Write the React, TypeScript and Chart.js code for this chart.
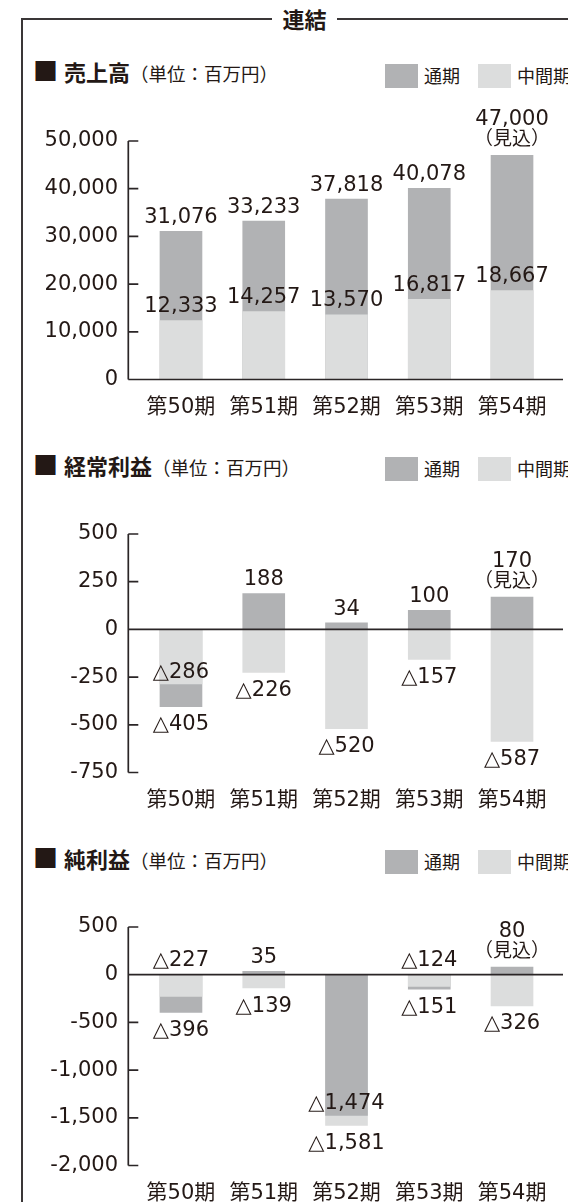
import React, { useEffect, useRef } from "react";
import { Chart, registerables } from "chart.js";

Chart.register(...registerables);

// ---- data ----
const periods = ["第50期", "第51期", "第52期", "第53期", "第54期"];
const seriesNames = ["通期", "中間期"];

const salesFull = [31076, 33233, 37818, 40078, 47000];
const salesHalf = [12333, 14257, 13570, 16817, 18667];
const salesTicks = [0, 10000, 20000, 30000, 40000, 50000];

const ordinaryFull = [-405, 188, 34, 100, 170];
const ordinaryHalf = [-286, -226, -520, -157, -587];
const ordinaryTicks = [-750, -500, -250, 0, 250, 500];

const netFull = [-396, 35, -1474, -151, 80];
const netHalf = [-227, -139, -1581, -124, -326];
const netTicks = [-2000, -1500, -1000, -500, 0, 500];

const forecastIndex = 4;
const forecastNote = "（見込）";
const unitNote = "（単位：百万円）";
const frameTitle = "連結";

// ---- styles ----
const DARK = "#b1b2b4";
const LIGHT = "#dcdddd";
const TEXT = "#231815";
const AXIS = "#2a2526";
const NUM_FONT = "'DejaVu Sans', 'Noto Sans CJK JP', sans-serif";
const JP_FONT = "'Noto Sans CJK JP', 'DejaVu Sans', sans-serif";
const NUM_SIZE = 21;

// label placement: o = outside bar end, i = inside bar end, z = above zero line
const sections = [
  {
    T: 72.5, canvasTop: 103, title: "売上高",
    full: salesFull, half: salesHalf, ticks: salesTicks,
    fullPlace: ["o", "o", "o", "o", "o"], halfPlace: ["o", "o", "o", "o", "o"],
  },
  {
    T: 466, canvasTop: 496, title: "経常利益",
    full: ordinaryFull, half: ordinaryHalf, ticks: ordinaryTicks,
    fullPlace: ["o", "o", "o", "o", "o"], halfPlace: ["i", "o", "o", "o", "o"],
  },
  {
    T: 859, canvasTop: 889, title: "純利益",
    full: netFull, half: netHalf, ticks: netTicks,
    fullPlace: ["o", "o", "i", "o", "o"], halfPlace: ["z", "o", "o", "z", "o"],
  },
];

const fmtValue = (v: number) =>
  v < 0 ? "△" + Math.abs(v).toLocaleString("en-US") : v.toLocaleString("en-US");
const fmtTick = (v: number) =>
  (v < 0 ? "-" : "") + Math.abs(v).toLocaleString("en-US");

function makePlugin(fullPlace: string[], halfPlace: string[], ticks: number[]) {
  return {
    id: "overlapAndLabels",
    beforeDatasetDraw() {
      return false;
    },
    afterDatasetsDraw(chart: any) {
      const ctx = chart.ctx;
      const y = chart.scales.y;
      const area = chart.chartArea;
      const metas = [chart.getDatasetMeta(0), chart.getDatasetMeta(1)];
      const n = chart.data.labels.length;
      // bars: larger magnitude behind, smaller in front
      for (let i = 0; i < n; i++) {
        const items = metas.map((m: any) => ({
          el: m.data[i],
          v: chart.data.datasets[m.index].data[i],
        }));
        items.sort((a: any, b: any) => Math.abs(b.v) - Math.abs(a.v));
        items.forEach((it: any) => it.el.draw(ctx));
      }
      // axes
      const axisX = area.left - 11.3;
      ctx.save();
      ctx.strokeStyle = AXIS;
      ctx.lineWidth = 1.7;
      ctx.beginPath();
      const yTop = y.getPixelForValue(ticks[ticks.length - 1]);
      const yBot = y.getPixelForValue(ticks[0]);
      ctx.moveTo(axisX, yTop);
      ctx.lineTo(axisX, yBot);
      ticks.forEach((v) => {
        if (v === 0) return;
        const py = y.getPixelForValue(v);
        ctx.moveTo(axisX, py);
        ctx.lineTo(axisX + 10, py);
      });
      const zy = y.getPixelForValue(0);
      ctx.moveTo(axisX, zy);
      ctx.lineTo(area.right + 9.6, zy);
      ctx.stroke();
      ctx.restore();

      // value labels
      ctx.save();
      ctx.fillStyle = TEXT;
      ctx.textAlign = "center";
      ctx.textBaseline = "alphabetic";
      const places = [fullPlace, halfPlace];
      const capHalf = NUM_SIZE * 0.365;
      metas.forEach((m: any, di: number) => {
        const data = chart.data.datasets[m.index].data;
        for (let i = 0; i < n; i++) {
          const v = data[i];
          const el = m.data[i];
          const end = y.getPixelForValue(v);
          const mode = places[di][i];
          const dir = v >= 0 ? -1 : 1;
          let cy: number;
          if (mode === "z") cy = zy - 16;
          else if (mode === "i") cy = end - dir * 14;
          else cy = end + dir * 16;
          ctx.font = NUM_SIZE + "px " + NUM_FONT;
          if (di === 0 && i === forecastIndex) {
            const noteY = end - 17;
            ctx.font = "19px " + JP_FONT;
            ctx.fillText(forecastNote, el.x, noteY + 7);
            ctx.font = NUM_SIZE + "px " + NUM_FONT;
            ctx.fillText(fmtValue(v), el.x, noteY - 21 + capHalf);
          } else {
            ctx.fillText(fmtValue(v), el.x, cy + capHalf);
          }
        }
      });
      ctx.restore();
    },
  };
}

function BarPanel(props: any) {
  const { canvasTop, full, half, ticks, fullPlace, halfPlace } = props;
  const ref = useRef<HTMLCanvasElement>(null);
  useEffect(() => {
    const chart = new Chart(ref.current as HTMLCanvasElement, {
      type: "bar",
      data: {
        labels: periods,
        datasets: [
          { label: seriesNames[0], data: full, backgroundColor: DARK, barThickness: 42, borderWidth: 0 },
          { label: seriesNames[1], data: half, backgroundColor: LIGHT, barThickness: 42, borderWidth: 0 },
        ],
      },
      options: {
        animation: false,
        responsive: false,
        maintainAspectRatio: false,
        layout: { padding: { top: 38, right: 14.6, left: 0, bottom: 0 } },
        plugins: { legend: { display: false }, tooltip: { enabled: false } },
        scales: {
          x: {
            stacked: true,
            offset: true,
            grid: { display: false },
            border: { display: false },
            afterFit: (s: any) => {
              s.height = 45.5;
            },
            ticks: {
              padding: 7,
              color: TEXT,
              font: { family: NUM_FONT, size: NUM_SIZE },
              maxRotation: 0,
              autoSkip: false,
            },
          },
          y: {
            stacked: false,
            min: ticks[0],
            max: ticks[ticks.length - 1],
            grid: { display: false },
            border: { display: false },
            afterBuildTicks: (s: any) => {
              s.ticks = ticks.map((v: number) => ({ value: v }));
            },
            afterFit: (s: any) => {
              s.width = 139.6;
            },
            ticks: {
              callback: (v: any) => fmtTick(Number(v)),
              padding: 13.6,
              color: TEXT,
              font: { family: NUM_FONT, size: NUM_SIZE },
            },
          },
        },
      } as any,
      plugins: [makePlugin(fullPlace, halfPlace, ticks)],
    });
    return () => chart.destroy();
  }, []);
  return (
    <canvas
      ref={ref}
      width={568}
      height={322}
      style={{ position: "absolute", left: 0, top: canvasTop, width: 568, height: 322 }}
    />
  );
}

function Header({ T, title }: { T: number; title: string }) {
  return (
    <>
      <div
        style={{
          position: "absolute",
          left: 33,
          top: T - 17.5,
          height: 30,
          lineHeight: "30px",
          whiteSpace: "nowrap",
          fontFamily: JP_FONT,
          color: TEXT,
        }}
      >
        <span style={{ fontSize: 25, fontWeight: 700 }}>■</span>
        <span style={{ fontSize: 22, fontWeight: 700, marginLeft: 6 }}>{title}</span>
        <span style={{ fontSize: 18.5, fontWeight: 400 }}>{unitNote}</span>
      </div>
      <div style={{ position: "absolute", left: 385, top: T - 9, width: 33, height: 24, background: DARK }} />
      <div
        style={{
          position: "absolute", left: 424, top: T - 13, height: 30, lineHeight: "30px",
          fontSize: 18, fontFamily: JP_FONT, color: TEXT, whiteSpace: "nowrap",
        }}
      >
        {seriesNames[0]}
      </div>
      <div style={{ position: "absolute", left: 478, top: T - 9, width: 33, height: 24, background: LIGHT }} />
      <div
        style={{
          position: "absolute", left: 517, top: T - 13, height: 30, lineHeight: "30px",
          fontSize: 18, fontFamily: JP_FONT, color: TEXT, whiteSpace: "nowrap",
        }}
      >
        {seriesNames[1]}
      </div>
    </>
  );
}

export default function App() {
  return (
    <div
      style={{
        position: "fixed",
        left: 0,
        top: 0,
        width: 568,
        height: 1202,
        overflow: "hidden",
        background: "#fff",
      }}
    >
      <div
        style={{
          position: "absolute",
          left: 20.5,
          top: 17.5,
          width: 620,
          height: 1300,
          border: "2px solid #3a3637",
          boxSizing: "border-box",
        }}
      />
      <div
        style={{
          position: "absolute",
          left: 272,
          top: 3,
          width: 65,
          height: 30,
          lineHeight: "30px",
          background: "#fff",
          textAlign: "center",
          fontFamily: JP_FONT,
          fontWeight: 700,
          fontSize: 22,
          color: TEXT,
        }}
      >
        {frameTitle}
      </div>
      {sections.map((s, k) => (
        <React.Fragment key={k}>
          <Header T={s.T} title={s.title} />
          <BarPanel {...s} />
        </React.Fragment>
      ))}
    </div>
  );
}
